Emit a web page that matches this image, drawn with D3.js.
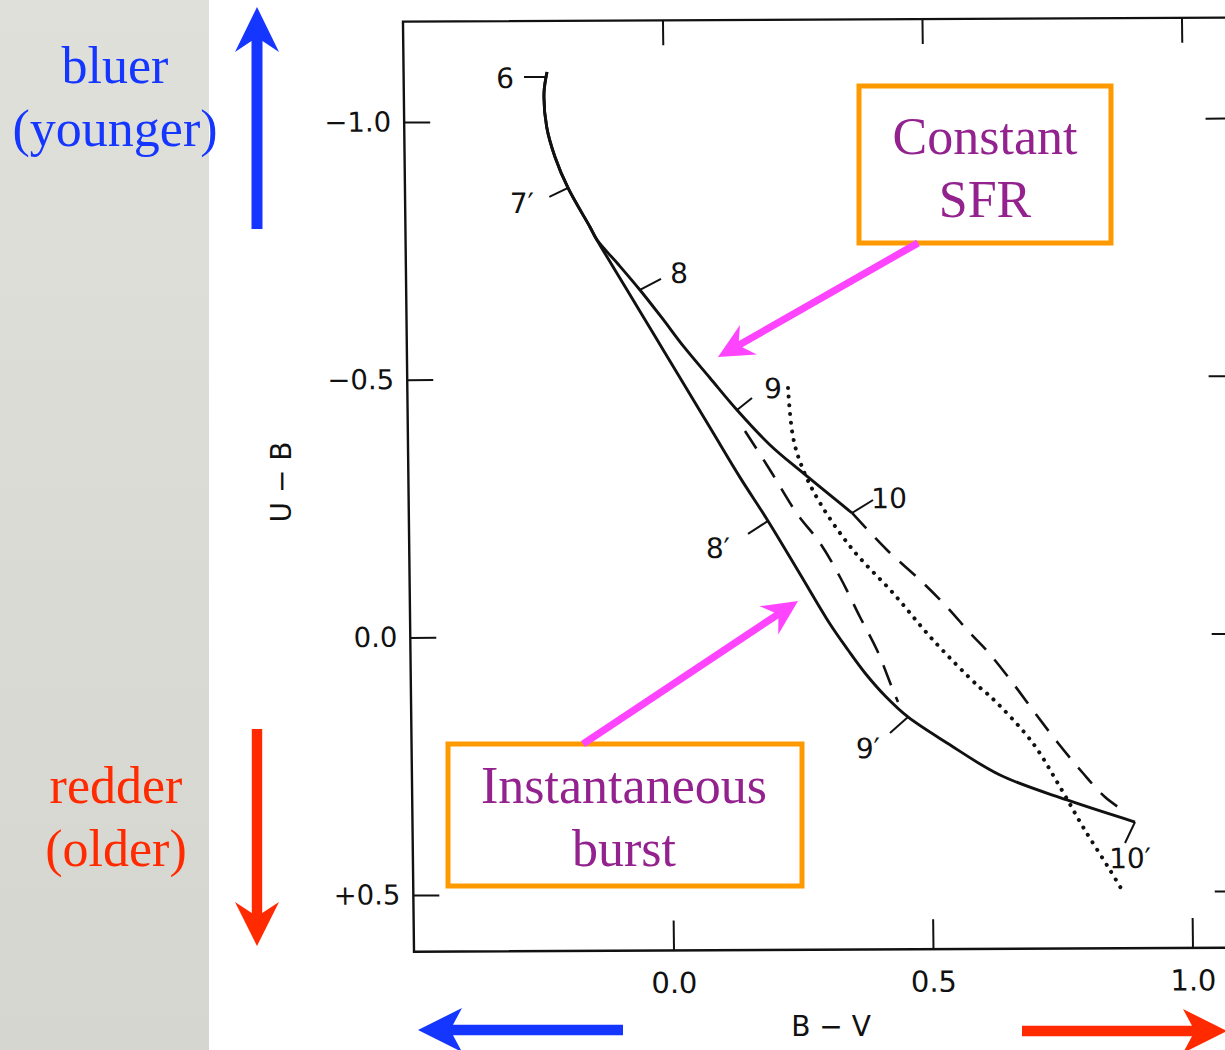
<!DOCTYPE html>
<html>
<head>
<meta charset="utf-8">
<script src="https://cdn.jsdelivr.net/npm/d3@7"></script>
<style>
  body { margin: 0; background: #fff; }
  svg { display: block; }
</style>
</head>
<body>
<div id="chart"></div>
<script>
// ---- data (B-V, U-B) ----
const frameX = [-0.5, 1.1];
const frameY = [-1.195, 0.61];
const xTicks = [0, 0.5, 1.0];
const yTicks = [-1.0, -0.5, 0.0, 0.5];
const yTickLabels = ["\u22121.0", "\u22120.5", "0.0", "+0.5"];
const xTickLabels = ["0.0", "0.5", "1.0"];

// shared track from log age 6 down to where the two models split
const common = [[-0.2236, -1.096], [-0.2299, -1.0553], [-0.2255, -0.9893], [-0.2102, -0.9310],
  [-0.1858, -0.8707], [-0.1444, -0.7948], [-0.1312, -0.7695]];

// constant star formation rate
const constSFR = common.concat([[-0.0913, -0.7227], [-0.0495, -0.6720], [-0.0077, -0.6175],
  [0.0340, -0.5610], [0.0834, -0.5006], [0.1347, -0.4382], [0.1975, -0.3700],
  [0.2604, -0.3153], [0.3539, -0.2372]]);

// instantaneous burst
const burst = common.concat([[-0.0783, -0.679], [-0.0216, -0.582], [0.0350, -0.4853],
  [0.0879, -0.3946], [0.1389, -0.3074], [0.1919, -0.2226], [0.2523, -0.1194],
  [0.3090, -0.0220], [0.3431, 0.0286], [0.3753, 0.0734], [0.4133, 0.1178], [0.4571, 0.1592],
  [0.5317, 0.2100], [0.6331, 0.2727], [0.7616, 0.3218], [0.8921, 0.3652]]);

// dashed mixtures
const dash9 = [[0.1496, -0.3974], [0.1969, -0.3215], [0.2481, -0.2362], [0.2916, -0.1793],
  [0.3293, -0.1131], [0.3669, -0.0353], [0.3989, 0.0289], [0.4288, 0.1067], [0.4382, 0.1300]];
const dash10 = [[0.3539, -0.2372], [0.4205, -0.1651], [0.4834, -0.1065], [0.5348, -0.0539],
  [0.5785, -0.0032], [0.6128, 0.0338], [0.6583, 0.0923], [0.7019, 0.1527], [0.7455, 0.2111],
  [0.7911, 0.2676], [0.8349, 0.3164], [0.8769, 0.3476]];

// dotted track
const dotted = [[0.2335, -0.4804], [0.2420, -0.3853], [0.2586, -0.3270], [0.2925, -0.2569],
  [0.3550, -0.1654], [0.4311, -0.0816], [0.5071, 0.0100], [0.5908, 0.0978], [0.6194, 0.1232],
  [0.6955, 0.2089], [0.7484, 0.2965], [0.7918, 0.3743], [0.8428, 0.4581], [0.8655, 0.4970]];

// age marks: [x1, y1, x2, y2]
const ageTicks = [[-0.2238, -1.0864, -0.2681, -1.0865], [-0.1858, -0.8707, -0.222, -0.8535],
  [-0.0495, -0.672, -0.0087, -0.6932], [0.1347, -0.4382, 0.1639, -0.4614],
  [0.3539, -0.2372, 0.3947, -0.2622], [0.1919, -0.2226, 0.1531, -0.1975],
  [0.4571, 0.1592, 0.4221, 0.1901], [0.8921, 0.3652, 0.8724, 0.4058]];
const ageLabels = [["6", -0.3047, -1.0848], ["7\u2032", -0.2748, -0.842], ["8", 0.026, -0.7047],
  ["9", 0.2046, -0.4804], ["10", 0.4256, -0.266], ["8\u2032", 0.0949, -0.1706],
  ["9\u2032", 0.3794, 0.219], ["10\u2032", 0.8817, 0.435]];

const W = 1225, H = 1050;
const blue = "#1536ff", red = "#ff2a00", magenta = "#ff44ff", orange = "#ff9900", purple = "#93228f";
const ink = "#111";

const svg = d3.select("#chart").append("svg")
  .attr("width", W).attr("height", H);

// grey side panel
const defs = svg.append("defs");
const grad = defs.append("linearGradient").attr("id", "panel")
  .attr("x1", 0).attr("y1", 0).attr("x2", 0).attr("y2", 1);
grad.append("stop").attr("offset", 0).attr("stop-color", "#e0e0db");
grad.append("stop").attr("offset", 1).attr("stop-color", "#d6d6d0");
svg.append("rect").attr("width", 209).attr("height", H).attr("fill", "url(#panel)");

const serif = "'Liberation Serif', 'Times New Roman', serif";
const sans = "'DejaVu Sans', sans-serif";

const sideText = [["bluer", 115, 83, blue], ["(younger)", 115, 146, blue],
  ["redder", 116, 803, red], ["(older)", 116, 866, red]];
svg.append("g").selectAll("text").data(sideText).join("text")
  .attr("x", d => d[1]).attr("y", d => d[2]).attr("text-anchor", "middle")
  .style("font-family", serif).style("font-size", "52px")
  .attr("fill", d => d[3]).text(d => d[0]);

// ---- plot (the scan is slightly tilted) ----
const x = d3.scaleLinear().domain(frameX).range([408.5, 1238.9]);
const y = d3.scaleLinear().domain(frameY).range([19.7, 949.8]);

const g = svg.append("g")
  .attr("transform", "translate(800,486) rotate(-0.28) skewX(0.4) translate(-800,-486)");

g.append("rect")
  .attr("x", x(frameX[0])).attr("y", y(frameY[0]))
  .attr("width", x(frameX[1]) - x(frameX[0])).attr("height", y(frameY[1]) - y(frameY[0]))
  .attr("fill", "none").attr("stroke", ink).attr("stroke-width", 2.4);

const styleAxis = sel => {
  sel.select(".domain").remove();
  sel.selectAll(".tick line").attr("stroke", ink).attr("stroke-width", 2);
  sel.selectAll(".tick text").style("font-family", sans).attr("fill", ink);
};

g.append("g").attr("transform", `translate(0,${y(frameY[1])})`)
  .call(d3.axisBottom(x).tickValues(xTicks).tickSizeInner(-30).tickSizeOuter(0).tickPadding(22)
    .tickFormat((d, i) => xTickLabels[i]))
  .call(styleAxis)
  .selectAll(".tick text").style("font-size", "29px");

g.append("g").attr("transform", `translate(0,${y(frameY[0])})`)
  .call(d3.axisTop(x).tickValues(xTicks).tickSizeInner(-25).tickSizeOuter(0).tickFormat(""))
  .call(styleAxis);

g.append("g").attr("transform", `translate(${x(frameX[0])},0)`)
  .call(d3.axisLeft(y).tickValues(yTicks).tickSizeInner(-26).tickSizeOuter(0).tickPadding(13)
    .tickFormat((d, i) => yTickLabels[i]))
  .call(styleAxis)
  .selectAll(".tick text").style("font-size", "27.5px");

g.append("g").attr("transform", `translate(${x(frameX[1])},0)`)
  .call(d3.axisRight(y).tickValues(yTicks).tickSizeInner(-29).tickSizeOuter(0).tickFormat(""))
  .call(styleAxis);

// axis titles
svg.append("text").attr("x", 831).attr("y", 1036).attr("text-anchor", "middle")
  .style("font-family", sans).style("font-size", "28px")
  .attr("fill", ink).text("B \u2212 V");
svg.append("text").attr("transform", "translate(291,482) rotate(-90)").attr("text-anchor", "middle")
  .style("font-family", sans).style("font-size", "28px")
  .attr("fill", ink).text("U \u2212 B");

// tracks
const line = d3.line().x(d => x(d[0])).y(d => y(d[1])).curve(d3.curveCatmullRom.alpha(0.5));

[constSFR, burst].forEach(d => {
  g.append("path").datum(d).attr("d", line)
    .attr("fill", "none").attr("stroke", ink).attr("stroke-width", 2.9);
});
[dash9, dash10].forEach(d => {
  g.append("path").datum(d).attr("d", line)
    .attr("fill", "none").attr("stroke", ink).attr("stroke-width", 2.6)
    .attr("stroke-dasharray", "21 13");
});
g.append("path").datum(dotted).attr("d", line)
  .attr("fill", "none").attr("stroke", ink).attr("stroke-width", 4)
  .attr("stroke-linecap", "round").attr("stroke-dasharray", "0.1 8.6");

g.append("g").selectAll("line").data(ageTicks).join("line")
  .attr("x1", d => x(d[0])).attr("y1", d => y(d[1]))
  .attr("x2", d => x(d[2])).attr("y2", d => y(d[3]))
  .attr("stroke", ink).attr("stroke-width", 2);

g.append("g").selectAll("text").data(ageLabels).join("text")
  .attr("x", d => x(d[1])).attr("y", d => y(d[2]))
  .attr("text-anchor", "middle").attr("dy", "0.36em")
  .style("font-family", sans).style("font-size", "28px")
  .attr("fill", ink).text(d => d[0]);

// ---- annotations ----
const boxes = [
  {x: 859, y: 86, w: 252, h: 157, lines: ["Constant", "SFR"], base: [154, 217], cx: 985},
  {x: 448, y: 744, w: 354, h: 142, lines: ["Instantaneous", "burst"], base: [803, 866], cx: 624}
];
boxes.forEach(b => {
  svg.append("rect").attr("x", b.x).attr("y", b.y).attr("width", b.w).attr("height", b.h)
    .attr("fill", "none").attr("stroke", orange).attr("stroke-width", 5);
  b.lines.forEach((t, i) => {
    svg.append("text").attr("x", b.cx).attr("y", b.base[i]).attr("text-anchor", "middle")
      .style("font-family", serif).style("font-size", "52px").attr("fill", purple).text(t);
  });
});

// arrow as one polygon: shaft half width, head length, head half width, notch depth
function arrow(x1, y1, x2, y2, sw, hl, hw, notch) {
  const dx = x2 - x1, dy = y2 - y1, L = Math.hypot(dx, dy);
  const ux = dx / L, uy = dy / L, px = -uy, py = ux;
  const p = (a, b) => [x2 - ux * a + px * b, y2 - uy * a + py * b];
  const s = (a, b) => [x1 + ux * a + px * b, y1 + uy * a + py * b];
  const pts = [p(0, 0), p(hl, hw), p(hl - notch, sw), s(0, sw), s(0, -sw), p(hl - notch, -sw), p(hl, -hw)];
  return "M" + pts.map(q => q.join(",")).join("L") + "Z";
}

const arrows = [
  [257, 229, 257, 7, 5.5, 45, 22, 11, blue],
  [257, 729, 257, 946, 5.2, 44, 22, 11, red],
  [623, 1030, 418, 1030, 5.2, 44, 22, 9, blue],
  [1022, 1031, 1227, 1031, 5.2, 44, 22, 9, red],
  [918, 243, 718, 357, 3.6, 35, 17, 9, magenta],
  [583, 744, 798, 601, 3.6, 35, 17, 9, magenta]
];
svg.append("g").selectAll("path").data(arrows).join("path")
  .attr("d", d => arrow(d[0], d[1], d[2], d[3], d[4], d[5], d[6], d[7]))
  .attr("fill", d => d[8]);
</script>
</body>
</html>
